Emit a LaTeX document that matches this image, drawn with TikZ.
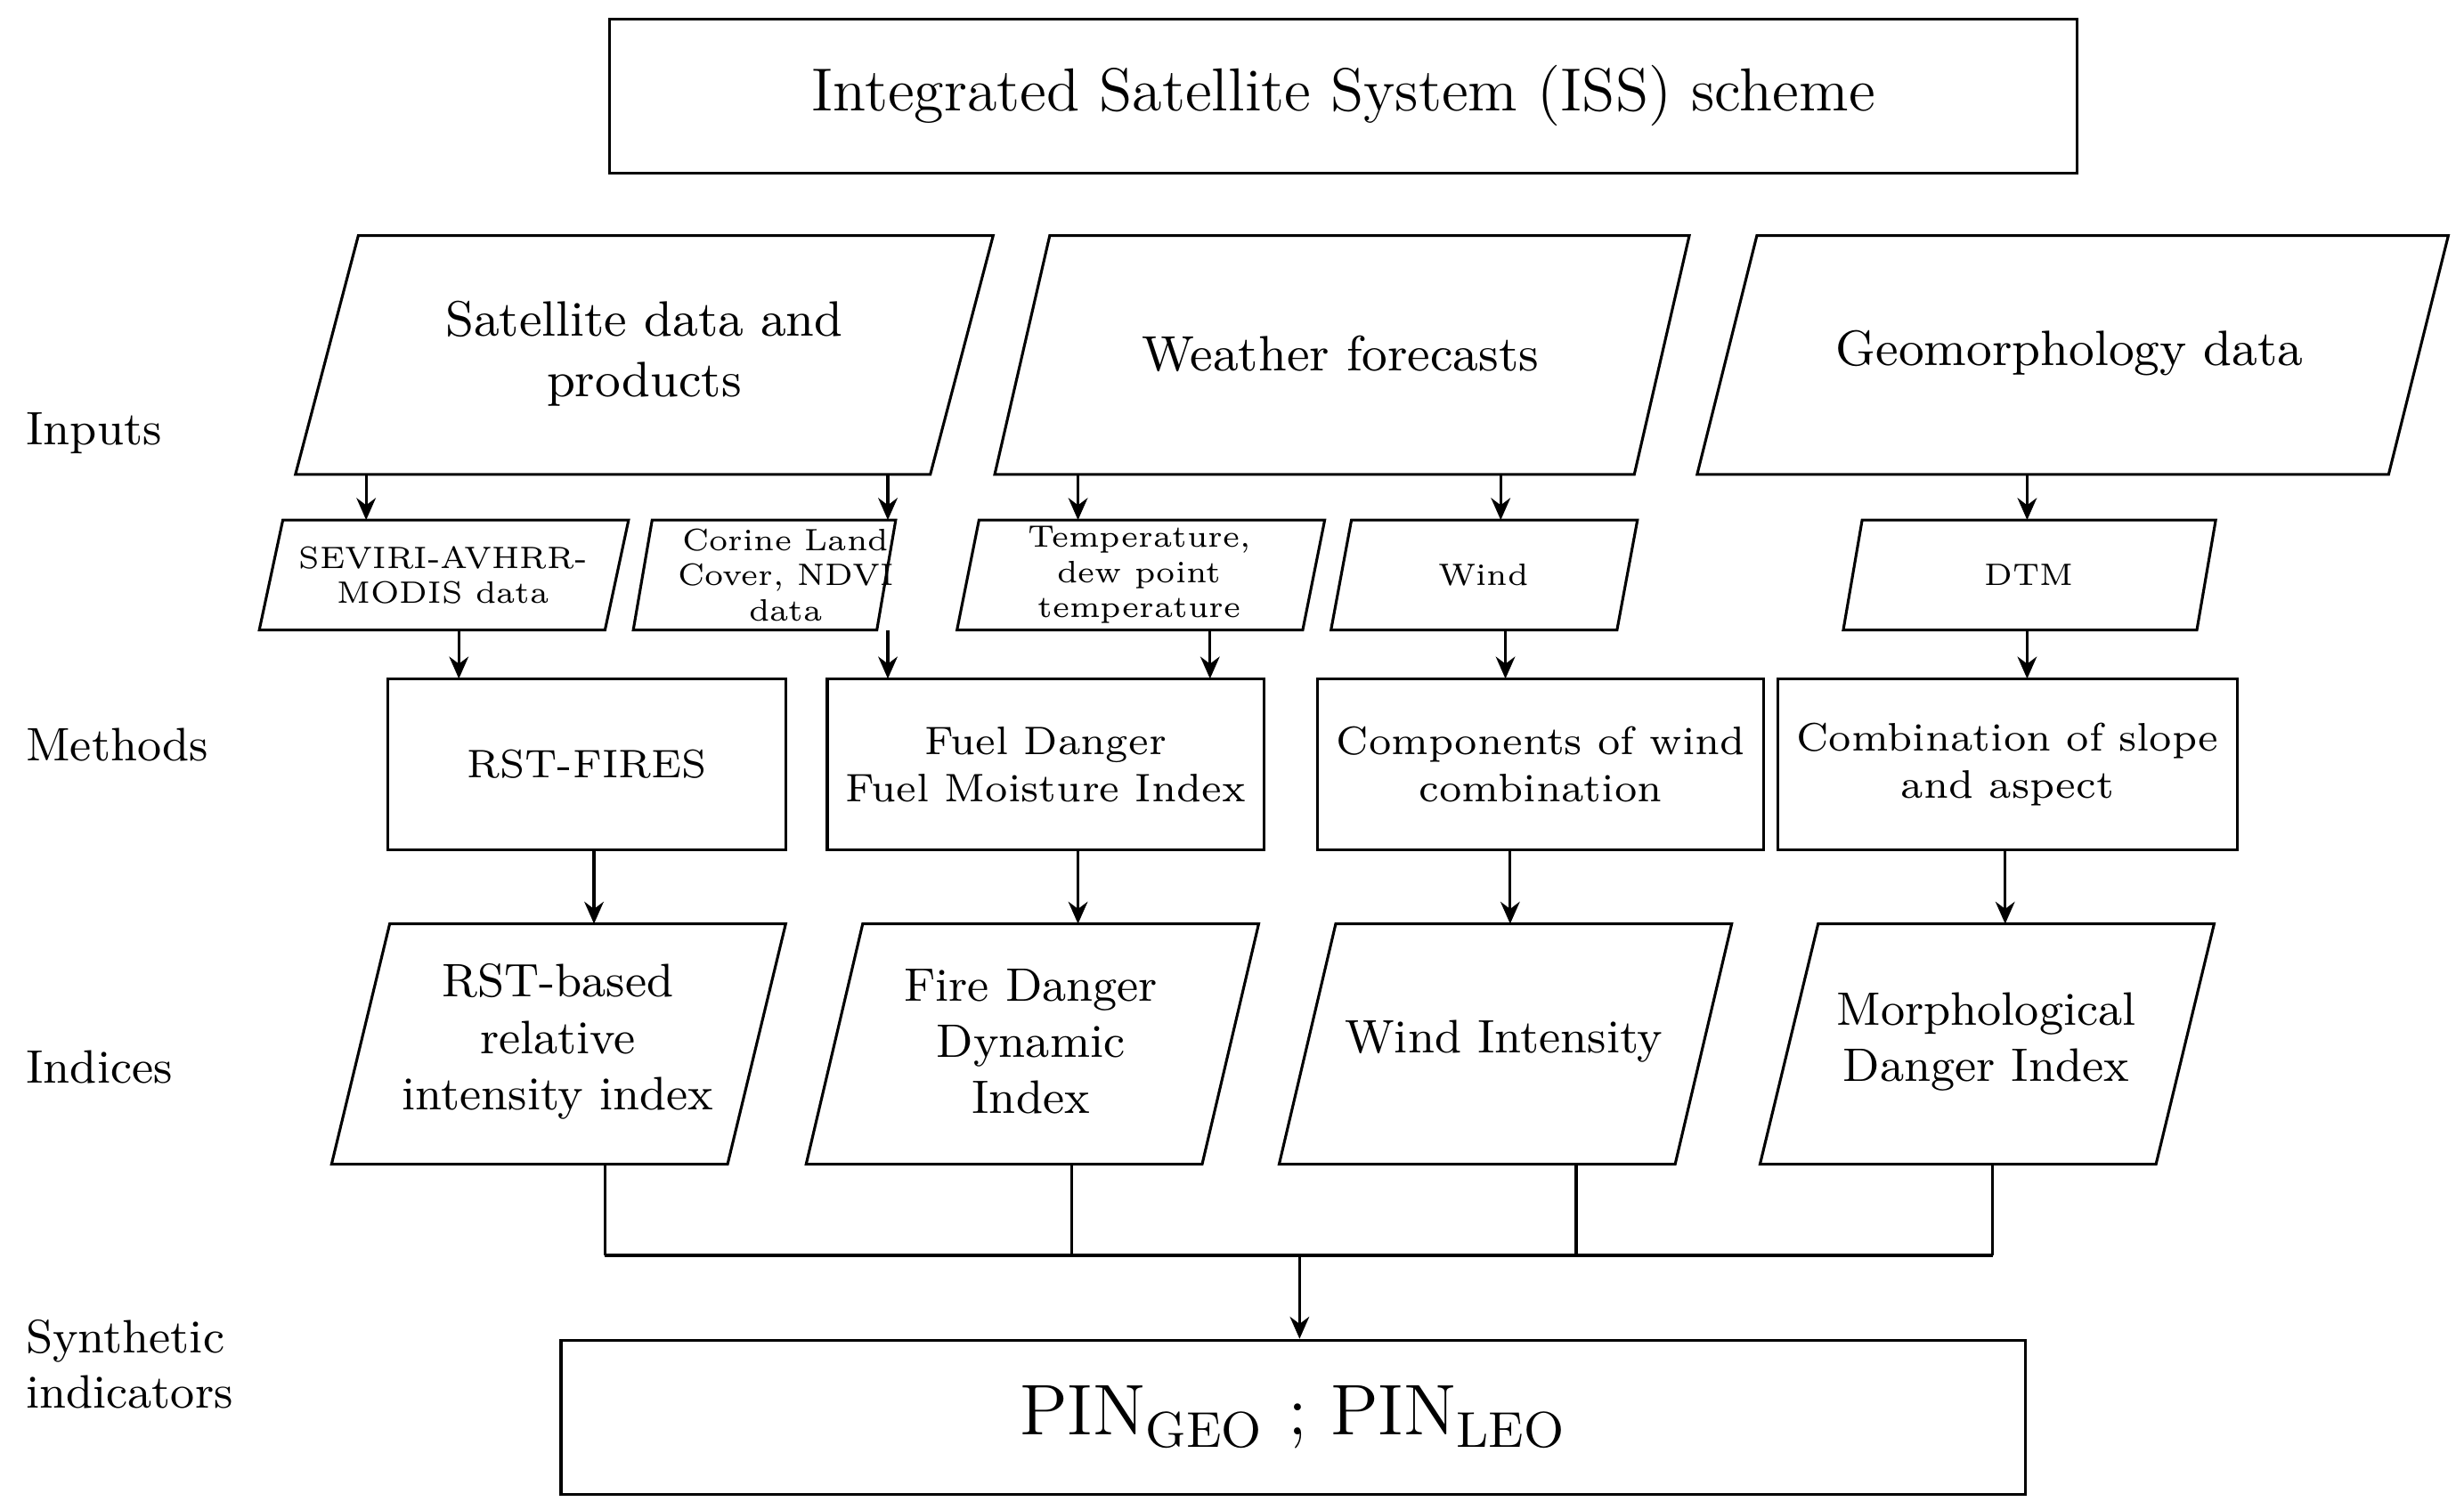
\documentclass[tikz,border=0pt]{standalone}
\usetikzlibrary{arrows.meta}
\begin{document}
\begin{tikzpicture}[x=0.1mm,y=-0.1mm,
  line width=0.5pt,
  box/.style={draw,align=center},
  lbl/.style={anchor=west,align=left,font=\fontsize{8.5}{10}\selectfont},
  arr/.style={-{Stealth[length=4pt,width=3.5pt]}},
  big/.style={font=\fontsize{9}{11}\selectfont,align=center},
  sml/.style={font=\fontsize{5.6}{6.4}\selectfont,align=center},
  mth/.style={font=\fontsize{7.2}{8.6}\selectfont,align=center},
  idx/.style={font=\fontsize{8.5}{10.2}\selectfont,align=center}]
\useasboundingbox (0,0) rectangle (1568,961);
% parallelogram: top-left x, top-right x, top y, bottom y, slant
\newcommand{\para}[5]{\draw (#1,#3) -- (#2,#3) -- (#2-#5,#4) -- (#1-#5,#4) -- cycle;}

% title
\node[box,minimum width=934*0.1mm,minimum height=98*0.1mm,font=\fontsize{11}{13}\selectfont] (title) at (855,61) {Integrated Satellite System (ISS) scheme};

% side labels
\node[lbl] (lin) at (4,276) {Inputs};
\node[lbl] (lme) at (4,474) {Methods};
\node[lbl] (lix) at (4,679) {Indices};
\node[lbl] (lsy) at (4,868) {Synthetic\\indicators};

% input parallelograms
\para{228}{632}{150}{302}{40}
\para{668}{1075}{150}{302}{35}
\para{1118}{1558}{150}{302}{38}
\node[big] (sat) at (410,225) {Satellite data and\\products};
\node[big] (wea) at (853,225) {Weather forecasts};
\node[big] (geo) at (1317,225) {Geomorphology data};

% small parallelograms
\para{180}{400}{331}{401}{15}
\para{415}{570}{331}{401}{12}
\para{623}{843}{331}{401}{14}
\para{860}{1042}{331}{401}{13}
\para{1185}{1410}{331}{401}{12}
\node[sml] (sev) at (282,366) {SEVIRI-AVHRR-\\MODIS data};
\node[sml] (cor) at (500,366) {Corine Land\\Cover, NDVI\\data};
\node[sml] (tem) at (725,366) {Temperature,\\dew point\\temperature};
\node[sml] (win) at (944,366) {Wind};
\node[sml] (dtm) at (1291,366) {DTM};

% methods
\node[box,mth,minimum width=253*0.1mm,minimum height=109*0.1mm] (m1) at (373.5,486.5) {RST-FIRES};
\node[box,mth,minimum width=253*0.1mm,minimum height=109*0.1mm] (m2) at (665.5,486.5) {Fuel Danger\\Fuel Moisture Index};
\node[box,mth,minimum width=253*0.1mm,minimum height=109*0.1mm] (m3) at (980.5,486.5) {Components of wind\\combination};
\node[box,mth,minimum width=253*0.1mm,minimum height=109*0.1mm] (m4) at (1277.5,486.5) {Combination of slope\\and aspect};

% indices
\para{248}{500}{588}{741}{37}
\para{549}{801}{588}{741}{36}
\para{850}{1102}{588}{741}{36}
\para{1157}{1409}{588}{741}{37}
\node[idx] (i1) at (355,663) {RST-based\\relative\\intensity index};
\node[idx] (i2) at (656,663) {Fire Danger\\Dynamic\\Index};
\node[idx] (i3) at (957,663) {Wind Intensity};
\node[idx] (i4) at (1264,663) {Morphological\\Danger Index};

% output
\node[box,minimum width=932*0.1mm,minimum height=98*0.1mm,font=\fontsize{13}{15}\selectfont] (pin) at (823,902) {PIN\textsubscript{GEO} ; PIN\textsubscript{LEO}};

% arrows inputs -> small
\foreach \x in {233,565,686,955,1290} \draw[arr] (\x,302) -- (\x,331);
% small -> methods
\foreach \x in {292,565,770,958,1290} \draw[arr] (\x,401) -- (\x,432);
% methods -> indices
\foreach \x in {378,686,961,1276} \draw[arr] (\x,541) -- (\x,588);
% merge
\foreach \x in {385,682,1003,1268} \draw (\x,741) -- (\x,799);
\coordinate (jl) at (385,799);
\coordinate (jr) at (1268,799);
\coordinate (jm) at (827,799);
\draw (jl) -- (jr);
\draw[arr] (jm) -- (pin.north -| jm);
\end{tikzpicture}
\end{document}
